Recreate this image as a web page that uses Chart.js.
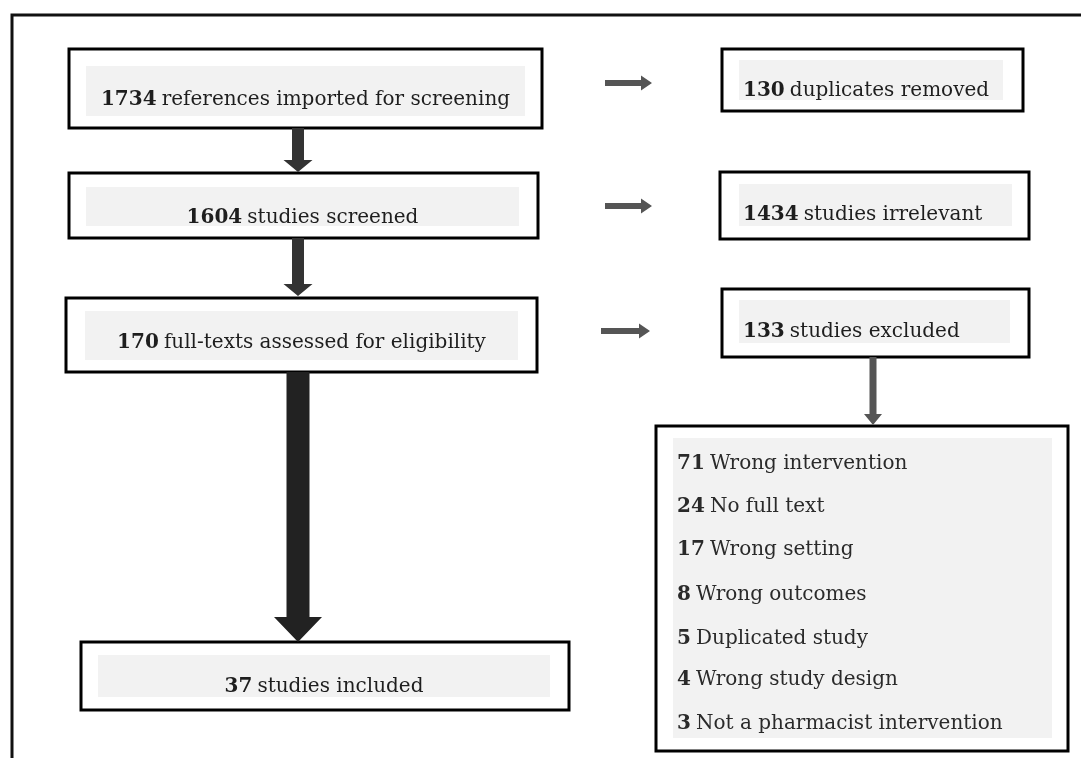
<!DOCTYPE html>
<html><head><meta charset="utf-8">
<script src="https://cdn.jsdelivr.net/npm/chart.js@4.4.1/dist/chart.umd.min.js"></script>
<style>html,body{margin:0;padding:0;background:#fff;overflow:hidden}#wrap{width:1081px;height:758px;position:relative}</style>
</head><body><div id="wrap"><canvas id="c"></canvas></div>
<script>
// ---- data ----
const stageCounts = [1734, 1604, 170, 37];
const stageLabels = ['references imported for screening', 'studies screened', 'full-texts assessed for eligibility', 'studies included'];
const removedCounts = [130, 1434, 133];
const removedLabels = ['duplicates removed', 'studies irrelevant', 'studies excluded'];
const reasonCounts = [71, 24, 17, 8, 5, 4, 3];
const reasonLabels = ['Wrong intervention', 'No full text', 'Wrong setting', 'Wrong outcomes', 'Duplicated study', 'Wrong study design', 'Not a pharmacist intervention'];

// ---- layout (axis units) ----
const layout = {
  frame: [12, 15, 1100, 780],
  stageBoxes: [[69,49,542,128],[69,173,538,238],[66,298,537,372],[81,642,569,710]],
  stageShades: [[86,66,525,116],[86,187,519,226],[85,311,518,360],[98,655,550,697]],
  stageTextY: [98, 216, 341, 685],
  sideBoxes: [[722,49,1023,111],[720,172,1029,239],[722,289,1029,357]],
  sideShades: [[739,60,1003,100],[739,184,1012,226],[739,300,1010,343]],
  sideTextX: 743, sideTextY: [89, 213, 330],
  reasonBox: [656,426,1068,751], reasonShade: [673,438,1052,738],
  reasonTextX: 677, reasonTextY: [462,505,548,593,637,678,722],
  downArrows: [
    {x:298, y0:128, y1:172, shaft:12, head:29, headLen:12, color:'#333'},
    {x:298, y0:238, y1:296, shaft:12, head:29, headLen:12, color:'#333'},
    {x:298, y0:372, y1:642, shaft:23, head:48, headLen:25, color:'#222'},
    {x:873, y0:357, y1:425, shaft:7, head:18, headLen:11, color:'#555'}
  ],
  rightArrows: [
    {x0:605, x1:652, y:83}, {x0:605, x1:652, y:206}, {x0:601, x1:650, y:331}
  ],
  fontSize: 20
};

const flowPlugin = {
  id: 'flow',
  afterDraw(chart) {
    const ctx = chart.ctx, xs = chart.scales.x, ys = chart.scales.y;
    const X = v => xs.getPixelForValue(v), Y = v => ys.getPixelForValue(v);
    const fs = layout.fontSize;
    const fam = '"DejaVu Serif", serif';
    function rect(r, fill, stroke, lw) {
      const x0 = X(r[0]), y0 = Y(r[1]), x1 = X(r[2]), y1 = Y(r[3]);
      if (fill) { ctx.fillStyle = fill; ctx.fillRect(x0, y0, x1 - x0, y1 - y0); }
      if (stroke) { ctx.strokeStyle = stroke; ctx.lineWidth = lw; ctx.strokeRect(x0, y0, x1 - x0, y1 - y0); }
    }
    function label(num, txt, x, yc, align, color) {
      ctx.textBaseline = 'alphabetic';
      ctx.font = 'bold ' + fs + 'px ' + fam;
      const a = String(num);
      const wa = ctx.measureText(a).width;
      ctx.font = fs + 'px ' + fam;
      const sp = ctx.measureText(' ').width * 0.8;
      const wb = ctx.measureText(txt).width;
      let sx = align === 'center' ? x - (wa + sp + wb) / 2 : x;
      const by = yc + fs * 0.36;
      ctx.fillStyle = color;
      ctx.textAlign = 'left';
      ctx.font = 'bold ' + fs + 'px ' + fam;
      ctx.fillText(a, sx, by);
      ctx.font = fs + 'px ' + fam;
      ctx.fillText(txt, sx + wa + sp, by);
    }
    ctx.save();
    // frame
    rect(layout.frame, null, '#111', 3);
    // stage boxes
    stageCounts.forEach((n, i) => {
      rect(layout.stageBoxes[i], '#fff', '#000', 3);
      rect(layout.stageShades[i], '#f2f2f2', null, 0);
      const s = layout.stageShades[i];
      label(n, stageLabels[i], X((s[0] + s[2]) / 2), Y(layout.stageTextY[i]), 'center', '#1e1e1e');
    });
    removedCounts.forEach((n, i) => {
      rect(layout.sideBoxes[i], '#fff', '#000', 3);
      rect(layout.sideShades[i], '#f2f2f2', null, 0);
      label(n, removedLabels[i], X(layout.sideTextX), Y(layout.sideTextY[i]), 'left', '#1e1e1e');
    });
    rect(layout.reasonBox, '#fff', '#000', 3);
    rect(layout.reasonShade, '#f2f2f2', null, 0);
    reasonCounts.forEach((n, i) => {
      label(n, reasonLabels[i], X(layout.reasonTextX), Y(layout.reasonTextY[i]), 'left', '#2a2a2a');
    });
    // arrows
    layout.downArrows.forEach(a => {
      const cx = X(a.x), y0 = Y(a.y0), y1 = Y(a.y1), hs = y1 - a.headLen;
      ctx.fillStyle = a.color;
      ctx.beginPath();
      ctx.moveTo(cx - a.shaft / 2, y0);
      ctx.lineTo(cx + a.shaft / 2, y0);
      ctx.lineTo(cx + a.shaft / 2, hs);
      ctx.lineTo(cx + a.head / 2, hs);
      ctx.lineTo(cx, y1);
      ctx.lineTo(cx - a.head / 2, hs);
      ctx.lineTo(cx - a.shaft / 2, hs);
      ctx.closePath();
      ctx.fill();
    });
    layout.rightArrows.forEach(a => {
      const x0 = X(a.x0), x1 = X(a.x1), cy = Y(a.y), sh = 6, hd = 15, hl = 11, hs = x1 - hl;
      ctx.fillStyle = '#555';
      ctx.beginPath();
      ctx.moveTo(x0, cy - sh / 2);
      ctx.lineTo(hs, cy - sh / 2);
      ctx.lineTo(hs, cy - hd / 2);
      ctx.lineTo(x1, cy);
      ctx.lineTo(hs, cy + hd / 2);
      ctx.lineTo(hs, cy + sh / 2);
      ctx.lineTo(x0, cy + sh / 2);
      ctx.closePath();
      ctx.fill();
    });
    ctx.restore();
  }
};

new Chart(document.getElementById('c'), {
  type: 'scatter',
  data: { datasets: [{ data: [], pointRadius: 0 }] },
  options: {
    responsive: true, maintainAspectRatio: false, animation: false,
    layout: { padding: 0 },
    plugins: { legend: { display: false }, tooltip: { enabled: false } },
    scales: {
      x: { type: 'linear', min: 0, max: 1081, display: false },
      y: { type: 'linear', min: 0, max: 758, reverse: true, display: false }
    }
  },
  plugins: [flowPlugin]
});
</script>
</body></html>
